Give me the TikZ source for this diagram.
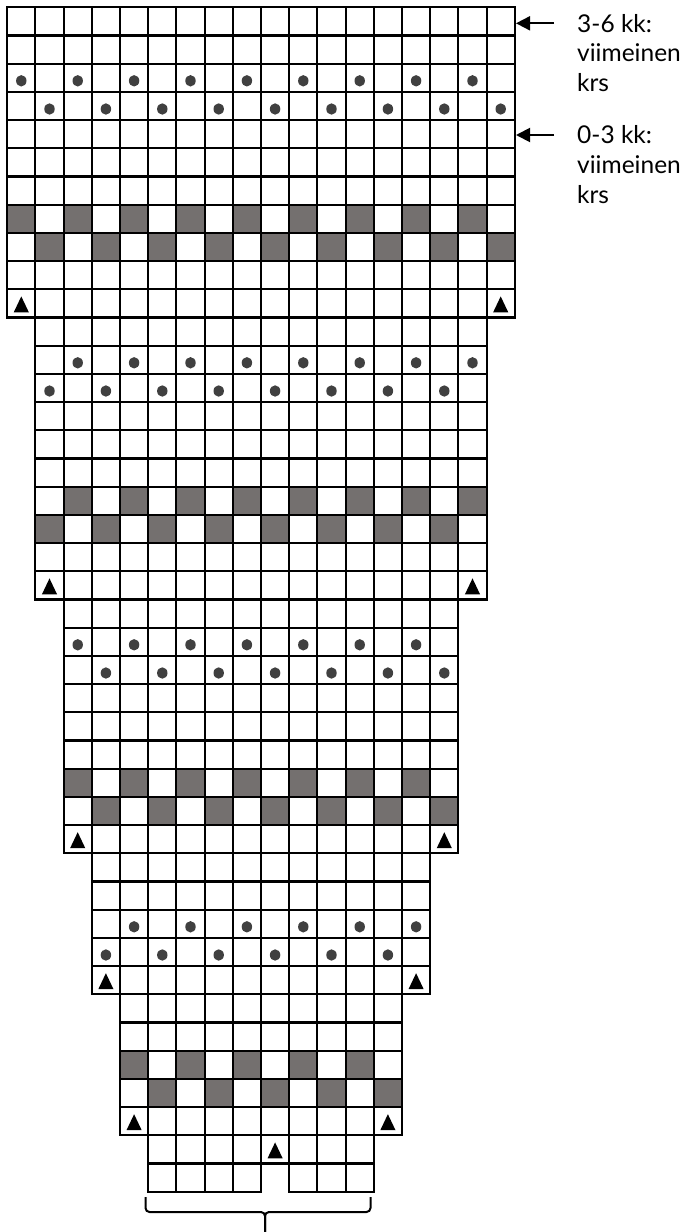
\documentclass[tikz,border=0pt]{standalone}
\usepackage{fontspec}
\setmainfont{Lato}
\usetikzlibrary{arrows.meta}
\definecolor{cellgray}{RGB}{116,112,111}
\definecolor{dotgray}{RGB}{64,64,64}
\tikzset{
  gridline/.style={draw=black, line width=2.1pt},
  graycell/.style={fill=cellgray},
  stitchdot/.style={fill=dotgray},
  tri/.style={fill=black},
  lbl/.style={font=\fontsize{24.5}{29.7}\selectfont, align=left, inner sep=0pt, anchor=base west},
  pointer/.style={-{Triangle[length=14pt,width=14pt]}, line width=1.9pt},
  bracepath/.style={line width=2pt, rounded corners=4pt}
}
\def\W{28.2}
\def\XO{7.2}
\def\YO{7.3}
\begin{document}
\begin{tikzpicture}[x=1pt,y=-1pt]
\useasboundingbox (0,0) rectangle (685,1232);
% gray cells
\foreach \r/\s/\e in {7/0/16, 8/1/17, 17/2/16, 18/1/15, 27/2/14, 28/3/15, 37/4/12, 38/5/13}{
  \pgfmathtruncatemacro\n{\s+2}
  \foreach \c in {\s,\n,...,\e}{
    \fill[graycell] ({\XO+\c*\W},{\YO+\r*\W}) rectangle ++(\W,\W);
  }
}
% grid
\foreach \ra/\rb/\a/\b in {0/10/0/17, 11/20/1/16, 21/29/2/15, 30/34/3/14, 35/39/4/13, 40/40/5/12}{
  \foreach \r in {\ra,...,\rb}{
    \foreach \c in {\a,...,\b}{
      \draw[gridline] ({\XO+\c*\W},{\YO+\r*\W}) rectangle ++(\W,\W);
    }
  }
}
\foreach \c in {5,6,7,8,10,11,12}{
  \draw[gridline] ({\XO+\c*\W},{\YO+41*\W}) rectangle ++(\W,\W);
}
% dots
\foreach \r/\s/\e in {2/0/16, 3/1/17, 12/2/16, 13/1/15, 22/2/14, 23/3/15, 32/4/14, 33/3/13}{
  \pgfmathtruncatemacro\n{\s+2}
  \foreach \c in {\s,\n,...,\e}{
    \fill[stitchdot] ({\XO+(\c+0.5)*\W},{\YO+(\r+0.5)*\W+3}) ellipse [x radius=5.2, y radius=5.7];
  }
}
% triangles
\foreach \r/\c in {10/0, 10/17, 20/1, 20/16, 29/2, 29/15, 34/3, 34/14, 39/4, 39/13, 40/9}{
  \fill[tri] ({\XO+(\c+0.5)*\W-7.6},{\YO+(\r+0.5)*\W+9}) -- ++(15.2,0) -- ++(-7.6,-16) -- cycle;
}
% arrows and labels
\coordinate (tailA) at (554,23.3);
\coordinate (tipA) at (516,23.3);
\coordinate (tailB) at (554,135);
\coordinate (tipB) at (516,135);
\draw[pointer] (tailA) -- (tipA);
\draw[pointer] (tailB) -- (tipB);
\node[lbl] (labA) at (577,91.5) {3-6 kk:\\viimeinen\\krs};
\node[lbl] (labB) at (577,203.2) {0-3 kk:\\viimeinen\\krs};
% brace
\coordinate (bl) at (145.5,1197);
\coordinate (br) at (370.5,1197);
\coordinate (btip) at (265,1233);
\draw[bracepath] (bl) -- (145.5,1212) -- (265,1212) -- (btip);
\draw[bracepath] (br) -- (370.5,1212) -- (265,1212) -- (btip);
\end{tikzpicture}
\end{document}
